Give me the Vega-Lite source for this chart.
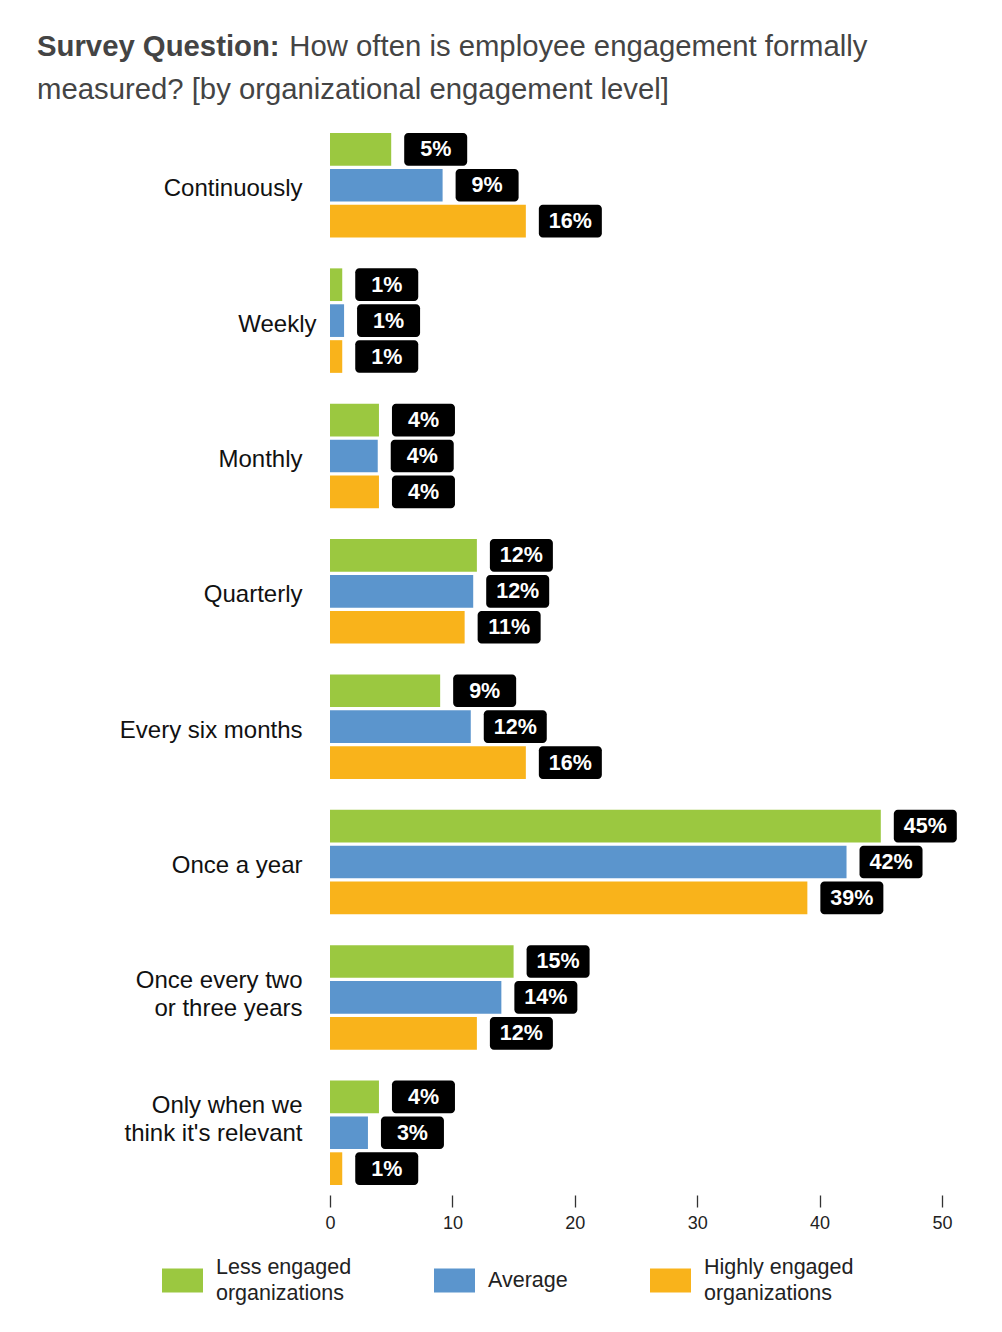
{
  "$schema": "https://vega.github.io/schema/vega-lite/v6.json",
  "autosize": {"type": "none"},
  "width": 612,
  "height": 1072,
  "padding": {"left": 330, "top": 123, "right": 60, "bottom": 137},
  "background": "white",
  "title": {
    "text": "Survey Question:",
    "subtitle": ["\u200b\u00a0\u00a0\u00a0\u00a0\u00a0\u00a0\u00a0\u00a0\u00a0\u00a0\u00a0\u00a0\u00a0\u00a0\u00a0\u00a0\u00a0\u00a0\u00a0\u00a0\u00a0\u00a0\u00a0\u00a0\u00a0\u00a0\u00a0\u00a0\u00a0\u00a0\u00a0How often is employee engagement formally", "measured? [by organizational engagement level]"],
    "anchor": "start",
    "frame": "group",
    "dx": -293,
    "offset": 18,
    "font": "Liberation Sans",
    "fontSize": 29.3,
    "fontWeight": "bold",
    "color": "#444444",
    "subtitleFont": "Liberation Sans",
    "subtitleFontSize": 29.3,
    "subtitleFontWeight": "normal",
    "subtitleColor": "#444444",
    "subtitleLineHeight": 43,
    "subtitlePadding": -29.3
  },
  "config": {
    "view": {"stroke": null},
    "font": "Liberation Sans",
    "style": {"guide-label": {"lineHeight": 13}}
  },
  "data": {
    "values": [
      {"freq": "Continuously", "group": "Less engaged organizations", "value": 5.0, "label": "5%"},
      {"freq": "Continuously", "group": "Average", "value": 9.2, "label": "9%"},
      {"freq": "Continuously", "group": "Highly engaged organizations", "value": 16.0, "label": "16%"},
      {"freq": "Weekly", "group": "Less engaged organizations", "value": 1.0, "label": "1%"},
      {"freq": "Weekly", "group": "Average", "value": 1.15, "label": "1%"},
      {"freq": "Weekly", "group": "Highly engaged organizations", "value": 1.0, "label": "1%"},
      {"freq": "Monthly", "group": "Less engaged organizations", "value": 4.0, "label": "4%"},
      {"freq": "Monthly", "group": "Average", "value": 3.9, "label": "4%"},
      {"freq": "Monthly", "group": "Highly engaged organizations", "value": 4.0, "label": "4%"},
      {"freq": "Quarterly", "group": "Less engaged organizations", "value": 12.0, "label": "12%"},
      {"freq": "Quarterly", "group": "Average", "value": 11.7, "label": "12%"},
      {"freq": "Quarterly", "group": "Highly engaged organizations", "value": 11.0, "label": "11%"},
      {"freq": "Every six months", "group": "Less engaged organizations", "value": 9.0, "label": "9%"},
      {"freq": "Every six months", "group": "Average", "value": 11.5, "label": "12%"},
      {"freq": "Every six months", "group": "Highly engaged organizations", "value": 16.0, "label": "16%"},
      {"freq": "Once a year", "group": "Less engaged organizations", "value": 45.0, "label": "45%"},
      {"freq": "Once a year", "group": "Average", "value": 42.2, "label": "42%"},
      {"freq": "Once a year", "group": "Highly engaged organizations", "value": 39.0, "label": "39%"},
      {"freq": "Once every two or three years", "group": "Less engaged organizations", "value": 15.0, "label": "15%"},
      {"freq": "Once every two or three years", "group": "Average", "value": 14.0, "label": "14%"},
      {"freq": "Once every two or three years", "group": "Highly engaged organizations", "value": 12.0, "label": "12%"},
      {"freq": "Only when we think it's relevant", "group": "Less engaged organizations", "value": 4.0, "label": "4%"},
      {"freq": "Only when we think it's relevant", "group": "Average", "value": 3.1, "label": "3%"},
      {"freq": "Only when we think it's relevant", "group": "Highly engaged organizations", "value": 1.0, "label": "1%"}
    ]
  },
  "encoding": {
    "y": {
      "field": "freq",
      "type": "nominal",
      "sort": null,
      "scale": {"paddingInner": 0.228, "paddingOuter": 0.074},
      "axis": {
        "title": null,
        "ticks": false,
        "domain": false,
        "labelFontSize": 24,
        "labelColor": "#111111",
        "labelPadding": {"condition": {"test": "datum.value == 'Weekly'", "value": 14}, "value": 28},
        "labelOffset": {"condition": [
          {"test": "datum.value == 'Once every two or three years'", "value": -16},
          {"test": "datum.value == \"Only when we think it's relevant\"", "value": -27}
        ], "value": 4},
        "labelLineHeight": 28,
        "labelLimit": 400,
        "labelExpr": "datum.value == 'Once every two or three years' ? ['Once every two', 'or three years'] : datum.value == \"Only when we think it's relevant\" ? ['Only when we', \"think it's relevant\"] : datum.value"
      }
    },
    "yOffset": {
      "field": "group",
      "type": "nominal",
      "sort": ["Less engaged organizations", "Average", "Highly engaged organizations"],
      "scale": {"paddingInner": 0.09, "paddingOuter": 0}
    },
    "x": {
      "field": "value",
      "type": "quantitative",
      "scale": {"domain": [0, 50], "nice": false},
      "axis": {
        "title": null,
        "grid": false,
        "domain": false,
        "values": [0, 10, 20, 30, 40, 50],
        "labelFlush": false,
        "tickSize": 12,
        "tickColor": "#333333",
        "tickWidth": 1.3,
        "labelFontSize": 18,
        "labelColor": "#222222",
        "labelPadding": 7
      }
    }
  },
  "layer": [
    {
      "mark": {"type": "bar"},
      "encoding": {
        "color": {
          "field": "group",
          "type": "nominal",
          "scale": {
            "domain": ["Less engaged organizations", "Average", "Highly engaged organizations"],
            "range": ["#9BC840", "#5B95CD", "#F9B31B"]
          },
          "legend": {
            "title": null,
            "orient": "none",
            "direction": "horizontal",
            "columns": 3,
            "legendX": -168,
            "legendY": 1124,
            "symbolType": "M-1,0.049H1V1.219H-1Z",
            "symbolSize": 1681,
            "symbolStrokeWidth": 0,
            "symbolOpacity": 1,
            "labelFontSize": 21.5,
            "labelColor": "#222222",
            "labelOffset": 13,
            "labelLimit": 300,
            "columnPadding": 82,
            "labelExpr": "datum.value == 'Less engaged organizations' ? ['Less engaged', '\u200b', 'organizations'] : datum.value == 'Highly engaged organizations' ? ['Highly engaged', '\u200b', 'organizations'] : ['\u200b', 'Average', '\u200b']"
          }
        }
      }
    },
    {
      "mark": {"type": "bar", "color": "black", "cornerRadius": 4, "xOffset": 13, "x2Offset": 76},
      "encoding": {
        "x2": {"field": "value"}
      }
    },
    {
      "mark": {"type": "text", "color": "white", "fontWeight": "bold", "fontSize": 21.5, "dx": 44.5, "dy": 1, "align": "center", "baseline": "middle"},
      "encoding": {
        "text": {"field": "label"}
      }
    }
  ]
}
